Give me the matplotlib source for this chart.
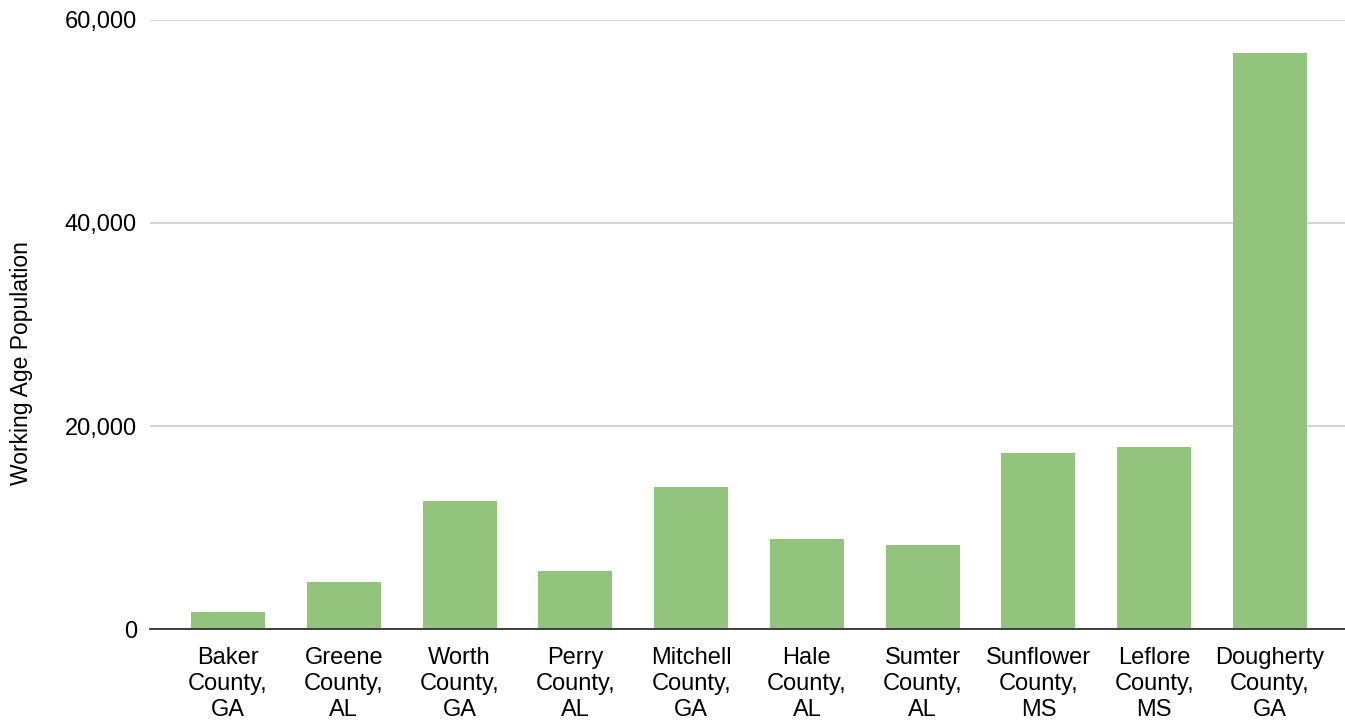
import matplotlib
matplotlib.use("Agg")
import matplotlib.pyplot as plt
from matplotlib.ticker import FuncFormatter

plt.rcParams['font.family'] = ['Liberation Sans', 'DejaVu Sans']

counties = ['Baker\nCounty,\nGA', 'Greene\nCounty,\nAL', 'Worth\nCounty,\nGA',
            'Perry\nCounty,\nAL', 'Mitchell\nCounty,\nGA', 'Hale\nCounty,\nAL',
            'Sumter\nCounty,\nAL', 'Sunflower\nCounty,\nMS', 'Leflore\nCounty,\nMS',
            'Dougherty\nCounty,\nGA']
working_age = [1710, 4630, 12600, 5740, 14040, 8890, 8330, 17360, 17910, 56760]
yticks = [0, 20000, 40000, 60000]

fig = plt.figure(figsize=(13.45, 7.22), dpi=100)
ax = fig.add_axes([150 / 1345, 1 - 629.3 / 722, 1 - 150 / 1345, (629.3 - 19.8) / 722])

x = range(len(counties))
ax.bar(x, working_age, width=0.64, color='#93c47d', zorder=3)

ax.set_xlim(-0.674, 9.648)
ax.set_ylim(0, 60000)
ax.set_yticks(yticks)
ax.yaxis.set_major_formatter(FuncFormatter(lambda v, p: f'{int(v):,}'))
ax.grid(axis='y', color='#cccccc', linewidth=1.2, zorder=0)

ax.set_xticks(list(x))
ax.set_xticklabels(counties, fontsize=17, linespacing=1.25)
ax.tick_params(axis='x', length=0, pad=12.5)
ax.tick_params(axis='y', length=0, pad=9.4, labelsize=17)

for s in ['top', 'right', 'left']:
    ax.spines[s].set_visible(False)
ax.spines['bottom'].set_color('#333333')
ax.spines['bottom'].set_linewidth(1.3)
ax.spines['bottom'].set_zorder(4)

fig.text(22 / 1345, 1 - 363 / 722, 'Working Age Population', rotation=90,
         fontsize=16.5, ha='center', va='center')

fig.savefig('out.png', dpi=100)
